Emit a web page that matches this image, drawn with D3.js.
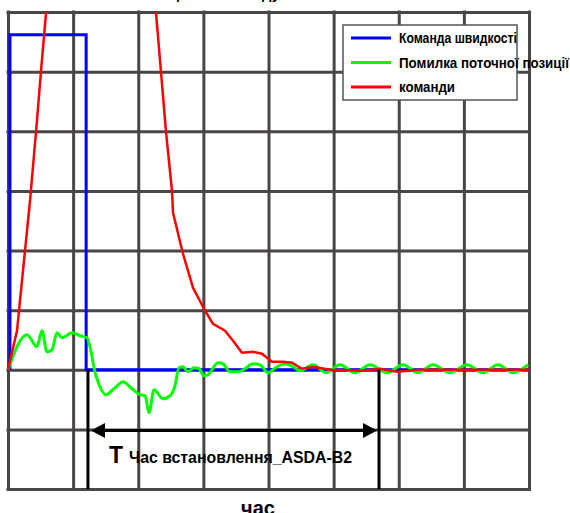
<!DOCTYPE html>
<html>
<head>
<meta charset="utf-8">
<script src="https://cdn.jsdelivr.net/npm/d3@7"></script>
<style>
	body { margin: 0; background: #fff; }
	text { font-family: "Liberation Sans", Arial, sans-serif; font-weight: bold; }
</style>
</head>
<body>
<div id="chart"></div>
<script>
// grid divisions (no tick labels on this chart)
const xGrid = [0, 1, 2, 3, 4, 5, 6, 7, 8]
const yGrid = [-2, -1, 0, 1, 2, 3, 4, 5, 6]

const seriesNames = ['Команда швидкості', 'Помилка поточної позиції', 'команди']
const seriesColors = ['#0000ff', '#00ff00', '#ff0000']
const legendWidths = [118, 170, 56]

// speed command: rectangular pulse
const speedCmd = [
	[0.03, 0], [0.03, 5.62], [1.2, 5.62], [1.2, 0], [8, 0]
]

// position error (green)
const posError = [
	[0, 0], [0.292, 0.587], [0.445, 0.386], [0.522, 0.654], [0.599, 0.302],
	[0.676, 0.335], [0.752, 0.621], [0.829, 0.537], [0.983, 0.621], [1.106, 0.57],
	[1.213, 0.537], [1.351, -0.101], [1.505, -0.419], [1.643, -0.302], [1.766, -0.201],
	[1.904, -0.319], [2.027, -0.419], [2.104, -0.436], [2.165, -0.721], [2.242, -0.335],
	[2.38, -0.486], [2.488, -0.436], [2.564, -0.268], [2.626, 0.034], [2.687, 0.05],
	[2.764, -0.034], [2.856, 0.034], [2.933, 0.017], [3.01, -0.101], [3.071, -0.084],
	[3.225, 0.117], [3.301, 0.101], [3.409, -0.034], [3.532, -0.034], [3.639, 0.017],
	[3.762, 0.101], [3.869, 0.084], [3.992, -0.05], [4.131, 0.05], [4.253, 0.101],
	[4.376, 0.05], [4.484, -0.017], [4.683, 0.084], [4.883, -0.05], [5.098, 0.084],
	[5.328, -0.05], [5.559, 0.084], [5.82, -0.05], [6.065, 0.084], [6.296, -0.05],
	[6.526, 0.084], [6.787, -0.05], [7.048, 0.084], [7.294, -0.05], [7.524, 0.084],
	[7.754, -0.05], [7.985, 0.084]
]

// command (red), peak runs off the top of the plot
const command = [
	[0, 0], [0.138, 0.654], [0.215, 1.493], [0.338, 2.834], [0.445, 4.176],
	[0.507, 5.015], [0.584, 5.987], [0.66, 6.977], [1.4, 9.5], [2.196, 6.977],
	[2.273, 5.987], [2.349, 4.998], [2.426, 3.992], [2.518, 3.002], [2.534, 2.633],
	[2.687, 1.945], [2.841, 1.375], [3.025, 0.99], [3.148, 0.771], [3.332, 0.654],
	[3.455, 0.486], [3.593, 0.285], [3.762, 0.302], [3.9, 0.268], [4.054, 0.134],
	[4.223, 0.134], [4.361, 0.117], [4.514, 0.017], [4.683, 0.05], [4.944, 0],
	[5.451, -0.017], [5.712, 0.017], [5.973, -0.034], [6.326, 0], [8, 0]
]

// settling time marker
const settleStart = 1.228
const settleEnd = 5.697
const settleLevel = -1.02

const width = 570
const height = 513
const margin = { top: 12, right: 41, bottom: 24, left: 8 }

const svg = d3.select('#chart').append('svg')
	.attr('width', width)
	.attr('height', height)

svg.append('rect')
	.attr('width', width)
	.attr('height', height)
	.attr('fill', '#fff')

const x = d3.scaleLinear()
	.domain([0, 8])
	.range([margin.left, width - margin.right])

const y = d3.scaleLinear()
	.domain([-2, 6])
	.range([height - margin.bottom, margin.top])

// title, mostly cut off by the top edge (as in the original)
svg.append('text')
	.attr('x', 208)
	.attr('y', -1)
	.attr('text-anchor', 'middle')
	.attr('font-size', 15)
	.text('Реакція на команду')

// grid
const grid = svg.append('g').attr('class', 'grid')

grid.append('g')
	.attr('transform', `translate(0,${y(-2)})`)
	.call(d3.axisBottom(x).tickValues(xGrid).tickSize(-(y(-2) - y(6))).tickFormat(''))

grid.append('g')
	.attr('transform', `translate(${x(0)},0)`)
	.call(d3.axisLeft(y).tickValues(yGrid).tickSize(-(x(8) - x(0))).tickFormat(''))

grid.selectAll('.domain').remove()
grid.selectAll('line')
	.attr('stroke', '#4a4646')
	.attr('stroke-width', 3)
	.attr('stroke-linecap', 'square')

svg.append('clipPath')
	.attr('id', 'plot')
	.append('rect')
	.attr('x', x(0))
	.attr('y', y(6))
	.attr('width', x(8) - x(0))
	.attr('height', y(-2) - y(6))

const line = d3.line()
	.x(d => x(d[0]))
	.y(d => y(d[1]))

const plot = svg.append('g').attr('clip-path', 'url(#plot)')

plot.append('path')
	.datum(speedCmd)
	.attr('d', line)
	.attr('fill', 'none')
	.attr('stroke', seriesColors[0])
	.attr('stroke-width', 3)

plot.append('path')
	.datum(posError)
	.attr('d', line.curve(d3.curveMonotoneX))
	.attr('fill', 'none')
	.attr('stroke', seriesColors[1])
	.attr('stroke-width', 3)
	.attr('stroke-linejoin', 'round')

line.curve(d3.curveLinear)

plot.append('path')
	.datum(command)
	.attr('d', line)
	.attr('fill', 'none')
	.attr('stroke', seriesColors[2])
	.attr('stroke-width', 2.5)

// settling time annotation
const ann = svg.append('g')

ann.selectAll('line.v')
	.data([settleStart, settleEnd])
	.enter()
	.append('line')
	.attr('x1', d => x(d))
	.attr('x2', d => x(d))
	.attr('y1', y(0))
	.attr('y2', y(-2))
	.attr('stroke', '#000')
	.attr('stroke-width', 3)

ann.append('line')
	.attr('x1', x(settleStart) + 10)
	.attr('x2', x(settleEnd) - 10)
	.attr('y1', y(settleLevel))
	.attr('y2', y(settleLevel))
	.attr('stroke', '#000')
	.attr('stroke-width', 3)

const ay = y(settleLevel)
const ax0 = x(settleStart) + 3
const ax1 = x(settleEnd) - 2
ann.append('path')
	.attr('d', `M${ax0},${ay} L${ax0 + 14},${ay - 7.5} L${ax0 + 14},${ay + 7.5} Z`)
	.attr('fill', '#000')
ann.append('path')
	.attr('d', `M${ax1},${ay} L${ax1 - 14},${ay - 7.5} L${ax1 - 14},${ay + 7.5} Z`)
	.attr('fill', '#000')

ann.append('text')
	.attr('x', 109)
	.attr('y', 463)
	.attr('font-size', 23)
	.text('T')

ann.append('text')
	.attr('x', 129)
	.attr('y', 463)
	.attr('font-size', 17)
	.attr('textLength', 223)
	.attr('lengthAdjust', 'spacingAndGlyphs')
	.text('Час встановлення_ASDA-B2')

// x axis title
svg.append('text')
	.attr('x', 258)
	.attr('y', 515)
	.attr('text-anchor', 'middle')
	.attr('font-size', 20)
	.text('час')

// legend
const legend = svg.append('g')

legend.append('rect')
	.attr('x', 343)
	.attr('y', 25)
	.attr('width', 174)
	.attr('height', 75)
	.attr('fill', '#fff')
	.attr('stroke', '#555')
	.attr('stroke-width', 1.5)

const legendY = d3.scalePoint()
	.domain(seriesNames)
	.range([38, 87])

const items = legend.selectAll('g.item')
	.data(seriesNames)
	.enter()
	.append('g')
	.attr('transform', d => `translate(0,${legendY(d)})`)

items.append('line')
	.attr('x1', 351)
	.attr('x2', 391)
	.attr('stroke', (d, i) => seriesColors[i])
	.attr('stroke-width', 3)

items.append('text')
	.attr('x', 399)
	.attr('y', 5)
	.attr('font-size', 14)
	.attr('textLength', (d, i) => legendWidths[i])
	.attr('lengthAdjust', 'spacingAndGlyphs')
	.text(d => d)
</script>
</body>
</html>
